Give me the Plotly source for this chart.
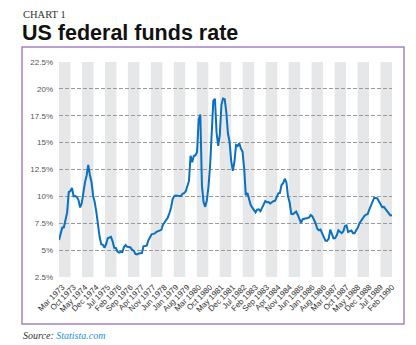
import plotly.graph_objects as go

# Monthly effective federal funds rate, Jan 1973 - Feb 1990 (%)
rate_1973 = [5.94, 6.58, 7.09, 7.12, 7.84, 8.49, 10.40, 10.50, 10.78, 10.01, 10.03, 9.95]
rate_1974 = [9.65, 8.97, 9.35, 10.51, 11.31, 11.93, 12.92, 12.01, 11.34, 10.06, 9.45, 8.53]
rate_1975 = [7.13, 6.24, 5.54, 5.49, 5.22, 5.55, 6.10, 6.14, 6.24, 5.82, 5.22, 5.20]
rate_1976 = [4.87, 4.77, 4.84, 4.82, 5.29, 5.48, 5.31, 5.29, 5.25, 5.02, 4.95, 4.65]
rate_1977 = [4.61, 4.68, 4.69, 4.73, 5.35, 5.39, 5.42, 5.90, 6.14, 6.47, 6.51, 6.56]
rate_1978 = [6.70, 6.78, 6.79, 6.89, 7.36, 7.60, 7.81, 8.04, 8.45, 8.96, 9.76, 10.03]
rate_1979 = [10.07, 10.06, 10.09, 10.01, 10.24, 10.29, 10.47, 10.94, 11.43, 13.77, 13.18, 13.78]
rate_1980 = [13.82, 14.13, 17.19, 17.61, 10.98, 9.47, 9.03, 9.61, 10.87, 12.81, 15.85, 18.90]
rate_1981 = [19.08, 15.93, 14.70, 15.72, 18.52, 19.10, 19.04, 17.82, 15.87, 15.08, 13.31, 12.37]
rate_1982 = [13.22, 14.78, 14.68, 14.94, 14.45, 14.15, 12.59, 10.12, 10.31, 9.71, 9.20, 8.95]
rate_1983 = [8.68, 8.51, 8.77, 8.80, 8.63, 8.98, 9.37, 9.56, 9.45, 9.48, 9.34, 9.47]
rate_1984 = [9.56, 9.59, 9.91, 10.29, 10.32, 11.06, 11.23, 11.64, 11.30, 9.99, 9.43, 8.38]
rate_1985 = [8.35, 8.50, 8.58, 8.27, 7.97, 7.53, 7.88, 7.90, 7.92, 7.99, 8.05, 8.27]
rate_1986 = [8.14, 7.86, 7.48, 6.99, 6.85, 6.92, 6.56, 6.17, 5.89, 5.85, 6.04, 6.91]
rate_1987 = [6.43, 6.10, 6.13, 6.37, 6.85, 6.73, 6.58, 6.73, 7.22, 7.29, 6.69, 6.77]
rate_1988 = [6.83, 6.58, 6.58, 6.87, 7.09, 7.51, 7.75, 8.01, 8.19, 8.30, 8.35, 8.76]
rate_1989 = [9.12, 9.36, 9.85, 9.84, 9.81, 9.53, 9.24, 8.99, 9.02, 8.84, 8.55, 8.45]
rate_1990 = [8.23, 8.24]

years = list(range(1973, 1991))
yearly = [rate_1973, rate_1974, rate_1975, rate_1976, rate_1977, rate_1978, rate_1979,
          rate_1980, rate_1981, rate_1982, rate_1983, rate_1984, rate_1985, rate_1986,
          rate_1987, rate_1988, rate_1989, rate_1990]
month_names = ["Jan", "Feb", "Mar", "Apr", "May", "Jun", "Jul", "Aug", "Sep", "Oct", "Nov", "Dec"]

categories = []
values = []
for yr, vals in zip(years, yearly):
    for i, v in enumerate(vals):
        categories.append(f"{month_names[i]} {yr}")
        values.append(v)

tick_labels = ["Mar 1973", "Oct 1973", "May 1974", "Dec 1974", "Jul 1975", "Feb 1976",
               "Sep 1976", "Apr 1977", "Nov 1977", "Jun 1978", "Jan 1979", "Aug 1979",
               "Mar 1980", "Oct 1980", "May 1981", "Dec 1981", "Jul 1982", "Feb 1983",
               "Sep 1983", "Apr 1984", "Nov 1984", "Jun 1985", "Jan 1986", "Aug 1986",
               "Mar 1987", "Oct 1987", "May 1988", "Dec 1988", "Jul 1989", "Feb 1990"]

y_ticks = [2.5, 5, 7.5, 10, 12.5, 15, 17.5, 20, 22.5]
y_tick_text = ["2.5%", "5%", "7.5%", "10%", "12.5%", "15%", "17.5%", "20%", "22.5%"]

W, H = 416, 345
L, R, T, B = 59, 24, 62, 68
pw, ph = W - L - R, H - T - B

def px_x(p):
    return (p - L) / pw

def px_y(p):
    return (H - B - p) / ph

fig = go.Figure()
fig.add_trace(go.Scatter(x=categories, y=values, mode="lines",
                         line=dict(color="#0a70c0", width=2), hoverinfo="skip"))

n_last = len(categories) - 1
n_bands = len(tick_labels) - 1
shapes = []
for k in range(0, n_bands, 2):
    shapes.append(dict(type="rect", xref="x", yref="paper",
                       x0=k * n_last / n_bands, x1=(k + 1) * n_last / n_bands,
                       y0=0, y1=1, fillcolor="#e6e7e9", line=dict(width=0), layer="below"))
# frame
shapes.append(dict(type="rect", xref="paper", yref="paper",
                   x0=px_x(22), x1=px_x(404), y0=px_y(324), y1=px_y(47),
                   line=dict(color="#a583c8", width=1.5), fillcolor="rgba(0,0,0,0)", layer="below"))

annotations = [
    dict(text="CHART 1", xref="paper", yref="paper", x=px_x(21), y=px_y(14),
         xanchor="left", yanchor="middle", showarrow=False,
         font=dict(family="Liberation Serif", size=10.5, color="#333333")),
    dict(text="<b>US federal funds rate</b>", xref="paper", yref="paper", x=px_x(20), y=px_y(32.5),
         xanchor="left", yanchor="middle", showarrow=False,
         font=dict(family="Liberation Sans", size=21.5, color="#111111")),
    dict(text="<i>Source: <span style='color:#2a8fd4'>Statista.com</span></i>",
         xref="paper", yref="paper", x=px_x(21), y=px_y(335),
         xanchor="left", yanchor="middle", showarrow=False,
         font=dict(family="Liberation Serif", size=10, color="#333333")),
]

fig.update_layout(
    width=W, height=H, margin=dict(l=L, r=R, t=T, b=B, autoexpand=False),
    paper_bgcolor="white", plot_bgcolor="rgba(0,0,0,0)",
    showlegend=False, shapes=shapes, annotations=annotations,
    xaxis=dict(type="category", range=[0, n_last], tickmode="array",
               tickvals=tick_labels, ticktext=tick_labels, tickangle=-45,
               showgrid=False, zeroline=False, showline=False, ticks="",
               ticklabelstandoff=3,
               tickfont=dict(family="Liberation Sans", size=8, color="#333333")),
    yaxis=dict(range=[2.5, 22.5], tickmode="array", tickvals=y_ticks, ticktext=y_tick_text,
               showgrid=True, gridcolor="#9a9a9a", griddash="4px,2px", gridwidth=1,
               zeroline=False, showline=False, ticks="", ticklabelstandoff=5,
               tickfont=dict(family="Liberation Sans", size=8, color="#555555")),
)

fig.write_html("out.html")
